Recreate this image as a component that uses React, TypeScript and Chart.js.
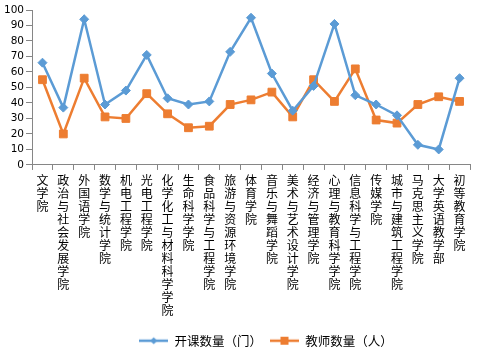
import React, { useEffect, useRef } from "react";
import { Chart, registerables } from "chart.js";

Chart.register(...registerables);

const categories: string[] = [
  "文学院",
  "政治与社会发展学院",
  "外国语学院",
  "数学与统计学院",
  "机电工程学院",
  "光电工程学院",
  "化学化工与材料科学学院",
  "生命科学学院",
  "食品科学与工程学院",
  "旅游与资源环境学院",
  "体育学院",
  "音乐与舞蹈学院",
  "美术与艺术设计学院",
  "经济与管理学院",
  "心理与教育科学学院",
  "信息科学与工程学院",
  "传媒学院",
  "城市与建筑工程学院",
  "马克思主义学院",
  "大学英语教学部",
  "初等教育学院",
];

const courseCounts: number[] = [66, 37, 94, 39, 48, 71, 43, 39, 41, 73, 95, 59, 35, 51, 91, 45, 39, 32, 13, 10, 56];
const teacherCounts: number[] = [55, 20, 56, 31, 30, 46, 33, 24, 25, 39, 42, 47, 31, 55, 41, 62, 29, 27, 39, 44, 41];

const seriesNames: string[] = ["开课数量（门）", "教师数量（人）"];

const BLUE = "#5B9BD5";
const ORANGE = "#ED7D31";

function legendIcon(color: string, shape: "diamond" | "square"): HTMLCanvasElement {
  const c = document.createElement("canvas");
  c.width = 29;
  c.height = 10;
  const ctx = c.getContext("2d")!;
  ctx.strokeStyle = color;
  ctx.lineWidth = 2.5;
  ctx.beginPath();
  ctx.moveTo(0, 5);
  ctx.lineTo(29, 5);
  ctx.stroke();
  ctx.fillStyle = color;
  if (shape === "square") {
    ctx.fillRect(10.5, 1, 8, 8);
  } else {
    ctx.beginPath();
    ctx.moveTo(14.5, 1.5);
    ctx.lineTo(18, 5);
    ctx.lineTo(14.5, 8.5);
    ctx.lineTo(11, 5);
    ctx.closePath();
    ctx.fill();
  }
  return c;
}

const legendShift = {
  id: "legendShift",
  afterLayout(chart: any) {
    const lg = chart.legend;
    if (lg) {
      lg.left += 30;
      lg.right += 30;
    }
  },
};

export default function App() {
  const ref = useRef<HTMLCanvasElement | null>(null);

  useEffect(() => {
    if (!ref.current) return;
    const icons = [legendIcon(BLUE, "diamond"), legendIcon(ORANGE, "square")];
    const chart = new Chart(ref.current, {
      type: "line",
      data: {
        labels: categories.map((c) => c.split("")),
        datasets: [
          {
            label: seriesNames[0],
            data: courseCounts,
            borderColor: BLUE,
            backgroundColor: BLUE,
            borderWidth: 2.5,
            pointStyle: "rectRot",
            pointRadius: 4.5,
            pointBorderWidth: 1,
            tension: 0,
          },
          {
            label: seriesNames[1],
            data: teacherCounts,
            borderColor: ORANGE,
            backgroundColor: ORANGE,
            borderWidth: 2.5,
            pointStyle: "rect",
            pointRadius: 5.5,
            pointBorderWidth: 1,
            tension: 0,
          },
        ],
      },
      options: {
        animation: false,
        responsive: false,
        layout: { padding: { left: 2, right: 21, top: 10, bottom: -6 } },
        plugins: {
          tooltip: { enabled: false },
          legend: {
            position: "bottom",
            labels: {
              usePointStyle: true,
              pointStyleWidth: 29,
              color: "#000",
              font: { family: "'Noto Sans CJK SC', sans-serif", size: 12.5 },
              padding: 8,
              generateLabels: (ch: any) =>
                ch.data.datasets.map((ds: any, i: number) => ({
                  text: ds.label,
                  pointStyle: icons[i],
                  fillStyle: ds.borderColor,
                  strokeStyle: ds.borderColor,
                  lineWidth: 0,
                  datasetIndex: i,
                  hidden: false,
                  fontColor: "#000",
                })),
            },
          },
        },
        scales: {
          x: {
            offset: true,
            afterFit: (scale: any) => {
              scale.height += 6;
            },
            grid: {
              display: true,
              drawOnChartArea: false,
              drawTicks: true,
              tickLength: 5,
              offset: true,
              color: "#868686",
            },
            border: { color: "#868686", width: 1 },
            ticks: {
              autoSkip: false,
              maxRotation: 0,
              minRotation: 0,
              padding: 4,
              color: "#000",
              font: { family: "'Noto Sans CJK SC', sans-serif", size: 12, lineHeight: 1.08 },
            },
          },
          y: {
            min: 0,
            max: 100,
            grid: {
              display: true,
              drawOnChartArea: false,
              drawTicks: true,
              tickLength: 6,
              color: "#868686",
            },
            border: { color: "#868686", width: 1 },
            ticks: {
              stepSize: 10,
              autoSkip: false,
              padding: 2,
              color: "#000",
              font: { family: "'DejaVu Sans', sans-serif", size: 10.5 },
            },
          },
        },
      },
      plugins: [legendShift],
    } as any);
    return () => chart.destroy();
  }, []);

  return (
    <div style={{ position: "fixed", left: 0, top: 0, width: 491, height: 351, background: "#fff" }}>
      <canvas ref={ref} width={491} height={351} style={{ width: 491, height: 351, display: "block" }} />
    </div>
  );
}
